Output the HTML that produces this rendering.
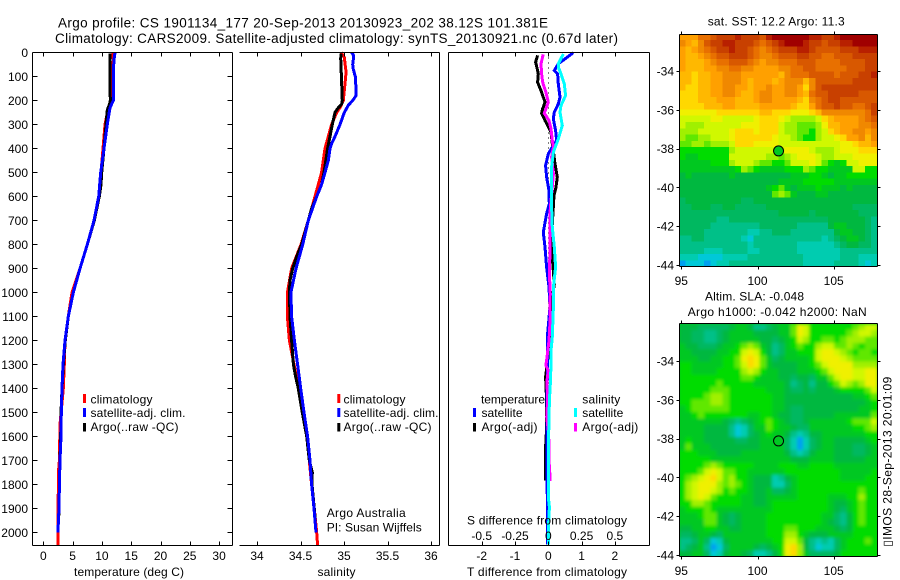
<!DOCTYPE html>
<html>
<head>
<meta charset="utf-8">
<title>Argo profile</title>
<style>
html,body{margin:0;padding:0;background:#fff;}
svg{display:block;}
text{font-family:"Liberation Sans",sans-serif;font-size:12px;fill:#000;}
</style>
</head>
<body>
<svg id="fig" xmlns="http://www.w3.org/2000/svg" width="900" height="580" viewBox="0 0 900 580">
<defs>
<clipPath id="sstClip"><rect x="679.5" y="34.5" width="198" height="232"/></clipPath>
<clipPath id="slaClip"><rect x="679.5" y="323.5" width="198" height="233"/></clipPath>
<filter id="slaBlur" x="-5%" y="-5%" width="110%" height="110%"><feGaussianBlur stdDeviation="1.7"/></filter>
</defs>
<rect x="0" y="0" width="900" height="580" fill="#fff"/>

<text x="58" y="27.5" font-size="13.5" style="font-size:13.5px" textLength="490">Argo profile: CS 1901134_177 20-Sep-2013 20130923_202 38.12S 101.381E</text>
<text x="55" y="42.8" style="font-size:13.5px" textLength="563">Climatology: CARS2009. Satellite-adjusted climatology: synTS_20130921.nc (0.67d later)</text>

<g id="panelT"></g>
<g id="panelS"></g>
<g id="panelD"></g>
<g id="mapSST"></g>
<g id="mapSLA"></g>

<text x="74" y="576" textLength="110">temperature (deg C)</text>
<text x="317.5" y="576" textLength="38">salinity</text>
<text x="467" y="576" textLength="160">T difference from climatology</text>
<text x="467" y="524.5" textLength="160">S difference from climatology</text>

<g>
<rect x="83" y="394" width="3" height="9" fill="#ff0000"/>
<rect x="83" y="408" width="3" height="9" fill="#0000ff"/>
<rect x="83" y="423" width="3" height="8.500" fill="#000"/>
<text x="90.500" y="403.300" textLength="62">climatology</text>
<text x="90.500" y="416.800" textLength="95">satellite-adj. clim.</text>
<text x="90.500" y="430.800" textLength="88">Argo(..raw -QC)</text>
</g>
<g>
<rect x="337.300" y="394" width="3" height="9" fill="#ff0000"/>
<rect x="337.300" y="408" width="3" height="9" fill="#0000ff"/>
<rect x="337.300" y="423" width="3" height="8.500" fill="#000"/>
<text x="343.500" y="403.300" textLength="62">climatology</text>
<text x="343.500" y="416.800" textLength="95">satellite-adj. clim.</text>
<text x="343.500" y="430.800" textLength="88">Argo(..raw -QC)</text>
</g>
<g>
<text x="326.700" y="517" textLength="79">Argo Australia</text>
<text x="326.700" y="531.700" textLength="95">PI: Susan Wijffels</text>
</g>

<g>
<text x="481" y="403.300" textLength="64">temperature</text>
<text x="582.300" y="403.300" textLength="38">salinity</text>
<rect x="473" y="408" width="3" height="9" fill="#0000ff"/>
<rect x="473" y="423" width="3" height="8.500" fill="#000"/>
<rect x="574" y="408" width="3" height="9" fill="#00ffff"/>
<rect x="574" y="423" width="3" height="8.500" fill="#ff00ff"/>
<text x="481.500" y="416.800" textLength="41">satellite</text>
<text x="481.500" y="430.800" textLength="56">Argo(-adj)</text>
<text x="582.300" y="416.800" textLength="41">satellite</text>
<text x="582.300" y="430.800" textLength="56">Argo(-adj)</text>
</g>

<text x="707.700" y="25.700" textLength="137">sat. SST: 12.2 Argo: 11.3</text>
<text x="705" y="300.700" textLength="99">Altim. SLA: -0.048</text>
<text x="687.700" y="316" textLength="179">Argo h1000: -0.042 h2000: NaN</text>
<text transform="translate(891.700,546.700) rotate(-90)" x="0" y="0" textLength="170">▯IMOS 28-Sep-2013 20:01:09</text>
</svg>

<script>
// ---------- profile data ----------
const tempClimDepth = [0,30,100,200,240,300,350,500,600,700,800,900,1000,1100,1200,1300,1400,1550,1700,1750,2000,2055];
const tempClimValue = [11.84,11.95,11.84,11.7,11.0,10.53,10.36,9.85,9.45,8.65,7.51,6.26,4.9,4.27,3.7,3.59,3.42,2.85,2.74,2.57,2.51,2.51];
const tempArgoDepth = [5,25,100,200,215,240,300,400,500,550,600,700,800,900,1000,1100,1200,1300,1400,1500,1600,1700,1800,1900,1960];
const tempArgoValue = [11.38,11.38,11.38,11.43,11.3,10.93,10.7,10.36,9.96,9.85,9.56,8.71,7.51,6.26,5.12,4.27,3.76,3.42,3.19,3.02,2.97,2.85,2.74,2.68,2.6];
const tempSatDepth = [0,30,80,200,230,300,400,500,600,700,800,900,1000,1100,1200,1300,1400,1500,1600,1700,1800,1900,1950,2000];
const tempSatValue = [12.24,12.06,11.95,11.95,11.38,10.93,10.36,9.79,9.45,8.65,7.51,6.26,5.12,4.27,3.7,3.36,3.19,3.08,3.02,2.85,2.74,2.68,2.57,2.51];

const salClimDepth = [0,20,80,100,200,230,250,300,350,400,500,600,700,800,900,1000,1100,1200,1300,1400,1500,1600,1700,1800,1900,2000,2055];
const salClimValue = [34.966,35.004,35.023,35.019,34.992,34.954,34.916,34.858,34.82,34.782,34.743,34.667,34.59,34.506,34.398,34.349,34.349,34.372,34.425,34.483,34.521,34.571,34.601,34.628,34.659,34.686,34.697];
const salArgoDepth = [5,25,100,200,215,230,250,300,350,400,500,550,600,650,700,800,850,900,950,1000,1100,1200,1300,1350,1400,1500,1600,1700,1750,1800,1900,1950];
const salArgoValue = [34.966,34.962,34.97,34.981,34.973,34.935,34.897,34.866,34.839,34.812,34.77,34.743,34.686,34.628,34.59,34.513,34.456,34.41,34.379,34.372,34.379,34.398,34.418,34.444,34.475,34.521,34.571,34.601,34.636,34.632,34.659,34.67];
const salSatDepth = [0,10,30,50,70,100,150,180,200,220,250,300,350,380,400,450,500,550,600,700,800,900,1000,1100,1200,1300,1400,1500,1600,1700,1800,1900,2000];
const salSatValue = [35.088,35.107,35.107,35.1,35.107,35.13,35.138,35.138,35.1,35.05,35.004,34.954,34.897,34.858,34.839,34.82,34.782,34.743,34.686,34.59,34.525,34.448,34.39,34.398,34.43,34.467,34.502,34.54,34.582,34.609,34.628,34.655,34.678];

const diffTSatDepth = [1,47,75,89,131,186,214,249,276,325,367,394,422,471,519,575,631,672,749,811,894,978,1061,1172,1311,1408,1533,1894,2050];
const diffTSatValue = [0.75,0.30,0.18,0.28,0.30,0.35,0.30,0.18,0.15,0.22,0.25,0.12,0,-0.08,-0.05,0.02,0.03,-0.05,-0.15,-0.10,-0.05,0.02,0.05,-0.02,-0.02,-0.04,-0.04,-0.03,-0.03];
const diffTArgoDepth = [12,40,75,89,124,165,207,235,253,283,304,332,381,408,464,519,561,596,644,714,783,853,908,964,1061,1102,1200,1283,1352,1450,1589,1644,1783];
const diffTArgoValue = [-0.32,-0.38,-0.32,-0.30,-0.32,-0.20,-0.10,-0.17,-0.20,-0.10,-0.02,0.08,0.12,0.15,0.20,0.27,0.23,0.17,0.15,0.12,0.10,0.12,0.15,0.18,0.08,0.06,0.08,-0.02,-0.08,-0.05,-0.06,-0.08,-0.08];
const diffSArgoDepth = [8,47,89,124,165,207,235,253,283,318,367,394,436,506,561,617,672,783,839,922,1006,1061,1102,1200,1269,1304,1325,1367,1450,1519,1575,1630,1700,1761,1785];
const diffSArgoValue = [-0.038,-0.055,-0.05,-0.042,-0.018,0,-0.018,-0.03,0.005,0.02,0.03,0.038,0.025,0.038,0.03,0.02,0.012,0.012,0.012,0.008,0.015,0.012,0.015,0.005,-0.01,-0.018,0,-0.01,-0.005,-0.012,0,0.005,0.005,0.012,0.012];
const diffSSatDepth = [6,47,61,89,131,179,221,249,304,360,415,478,575,644,728,811,894,978,1061,1186,1242,1352,1450,1658,1853,1894,1992,2050];
const diffSSatValue = [0.113,0.075,0.075,0.095,0.12,0.13,0.095,0.088,0.105,0.075,0.038,0.025,0.025,0.025,0.03,0.045,0.055,0.038,0.038,0.03,0.02,0.018,0.008,0,0,0.008,0,0];

// ---------- tick labels ----------
const depthTicks = [0,100,200,300,400,500,600,700,800,900,1000,1100,1200,1300,1400,1500,1600,1700,1800,1900,2000];
const tempTicks = [0,5,10,15,20,25,30];
const salTicks = [34,34.5,35,35.5,36];
const diffTTicks = [-2,-1,0,1,2];
const diffSTicks = [-0.5,-0.25,0,0.25,0.5];
const lonTicks = [95,100,105];
const latTicks = [34,36,38,40,42,44];

// ---------- map data: colour level per cell, 32 columns x 37 rows ----------
const sstRows = [
[14,14,14,16,16,17,18,18,18,19,18,18,18,17,19,20,20,20,20,20,20,19,19,18,18,19,20,20,20,20,20,20],
[15,14,13,15,17,18,18,19,19,18,18,18,17,16,17,18,19,20,20,20,19,18,18,17,18,18,19,19,20,20,20,20],
[14,13,14,15,16,17,18,18,19,18,18,17,16,15,16,17,18,18,18,19,19,18,17,17,17,17,18,18,18,19,19,19],
[14,13,13,14,15,16,17,17,18,18,18,17,16,15,15,16,17,17,17,18,18,17,17,16,16,17,17,17,18,18,18,18],
[14,13,13,13,14,15,16,16,17,17,17,16,15,14,15,15,16,16,16,17,17,17,16,16,16,16,17,17,17,17,18,18],
[14,13,13,13,14,14,15,15,16,16,15,15,14,14,14,14,15,15,16,16,17,17,16,16,16,16,16,17,17,17,18,18],
[13,13,12,13,13,14,14,15,15,15,14,14,14,14,14,14,13,15,16,16,16,17,17,17,17,16,17,17,17,18,18,19],
[13,13,12,13,13,14,14,15,15,15,14,13,14,14,14,13,14,15,15,15,13,15,17,17,17,17,17,17,18,18,18,18],
[13,12,12,13,13,14,14,15,15,14,14,13,14,14,15,14,14,15,15,14,12,15,17,18,18,18,18,18,18,18,18,18],
[12,12,12,13,13,14,14,15,15,14,13,13,14,15,15,14,14,15,15,14,13,16,17,17,18,18,18,18,18,17,17,17],
[12,12,12,13,13,13,14,14,14,13,13,13,14,15,15,14,14,14,14,13,12,15,16,17,18,18,17,17,17,17,17,17],
[12,12,12,12,13,13,13,14,14,13,13,13,13,14,14,14,14,14,13,12,12,14,16,17,17,18,17,17,16,16,17,18],
[11,11,11,11,11,11,12,12,12,12,12,12,12,13,13,12,12,12,11,11,11,12,13,15,15,15,15,15,15,15,16,18],
[10,10,10,10,10,11,11,10,10,10,10,10,11,12,12,12,11,10,9,9,9,9,10,12,13,14,14,14,14,15,16,17],
[10,9,9,9,10,10,10,10,10,10,11,11,11,12,12,12,10,9,9,8,8,8,9,11,13,13,14,14,14,15,15,16],
[9,9,9,10,10,10,10,10,11,12,12,12,11,12,12,12,10,9,9,8,8,7,9,10,12,13,14,14,15,15,14,15],
[9,8,8,9,9,10,10,10,11,12,12,12,12,12,12,11,10,10,9,8,7,7,9,10,10,11,12,14,14,15,13,15],
[8,8,9,9,8,9,9,9,10,12,12,12,11,11,11,11,10,10,10,10,10,10,10,10,10,10,11,11,12,13,13,14],
[7,7,7,7,7,7,7,7,9,10,10,10,10,10,10,10,10,11,11,11,11,10,9,9,9,10,11,11,11,12,12,12],
[7,6,6,7,7,7,7,7,10,10,10,10,10,10,9,9,8,9,10,11,11,11,10,9,9,10,10,10,11,11,11,11],
[6,6,6,6,6,7,7,7,9,10,10,10,9,8,8,7,7,8,10,10,10,11,10,8,7,6,7,10,10,11,11,11],
[6,6,6,6,6,6,6,6,6,7,9,8,7,6,6,6,6,7,7,7,9,8,7,7,6,6,6,6,10,10,7,7],
[5,6,5,5,5,5,5,5,6,5,5,5,5,5,5,5,5,5,6,6,6,7,7,6,5,6,6,7,7,7,7,7],
[5,5,5,5,5,5,5,5,5,5,5,5,5,5,5,5,6,6,6,6,7,7,7,7,7,6,6,6,6,6,6,6],
[5,5,5,5,5,5,5,5,5,5,5,5,5,5,6,7,8,6,5,6,6,6,7,6,6,6,5,6,5,5,5,5],
[5,5,5,5,5,5,5,5,5,5,5,5,5,5,5,8,9,8,6,5,5,5,6,6,5,5,5,5,5,5,5,5],
[4,5,5,5,5,5,5,5,5,5,4,4,5,5,5,5,5,5,5,5,5,5,5,5,5,5,5,5,5,5,5,5],
[4,4,5,5,5,4,4,5,5,4,4,4,4,4,5,5,5,5,5,5,5,5,5,5,5,5,5,5,4,4,4,4],
[4,4,4,4,4,4,4,4,4,4,4,4,4,4,4,4,5,5,5,5,5,4,5,5,5,5,5,5,5,4,4,4],
[4,4,4,4,4,4,3,3,4,4,4,4,4,4,4,4,4,4,4,4,4,4,4,4,5,5,5,5,5,5,4,3],
[4,4,4,4,4,3,3,3,3,3,3,3,3,4,4,4,4,4,4,3,3,3,3,3,5,6,6,5,5,5,4,3],
[4,4,4,4,3,3,3,3,3,3,3,2,2,3,3,4,4,4,3,3,3,3,3,3,3,5,6,6,5,5,4,3],
[3,3,4,4,3,3,3,3,3,3,2,1,3,3,3,3,3,3,3,3,3,3,3,2,3,4,5,6,6,5,4,3],
[3,3,3,3,3,3,3,3,3,3,3,2,3,3,3,3,3,3,3,2,2,2,2,2,2,3,4,5,5,4,4,3],
[3,3,3,3,2,2,2,3,3,3,3,2,2,3,3,3,3,3,3,2,2,2,2,2,2,2,3,3,3,3,3,3],
[2,2,2,1,1,1,1,2,2,2,2,3,3,3,3,3,3,3,3,3,2,2,2,2,2,2,3,3,3,2,2,2],
[0,1,1,1,0,1,2,2,3,3,3,3,3,3,3,3,3,3,3,3,2,2,2,2,2,3,3,3,3,2,1,2]
];
const slaRows = [
[5,5,5,4,4,4,4,4,5,6,6,5,3,3,4,5,6,6,8,11,10,7,7,7,7,7,7,7,8,9,10,10],
[5,5,4,4,3,3,4,5,6,6,6,6,5,5,5,5,6,6,8,11,10,7,7,7,7,7,7,8,9,10,10,9],
[5,5,4,4,3,3,4,5,6,6,6,6,6,5,5,4,5,6,7,10,9,7,7,8,8,7,8,9,9,9,8,8],
[6,5,5,4,4,4,5,6,6,7,8,9,8,6,5,3,4,6,7,8,7,7,9,10,10,8,8,9,8,7,8,8],
[6,6,5,5,5,5,6,6,7,7,10,11,10,7,5,3,4,6,6,7,7,7,10,11,11,10,9,8,7,8,8,7],
[6,6,6,5,5,6,6,7,7,8,11,12,11,8,6,4,5,6,6,6,6,7,10,11,11,11,10,9,8,8,8,8],
[7,7,6,6,6,6,6,7,7,8,10,12,11,8,6,5,5,5,5,6,6,7,8,10,11,11,11,11,9,9,9,9],
[7,7,6,6,6,6,7,7,7,7,9,10,9,7,6,6,5,5,5,6,6,6,7,8,10,11,11,11,10,10,11,11],
[7,7,7,7,7,7,7,7,7,7,8,8,7,6,6,6,5,5,4,5,5,4,6,6,8,10,11,11,10,10,11,11],
[7,7,7,7,7,7,8,7,7,7,7,7,6,6,6,6,6,5,3,4,5,3,5,5,7,8,10,9,8,9,11,11],
[7,7,7,7,7,8,8,8,7,7,7,7,7,7,6,6,6,5,4,4,5,4,5,5,5,6,7,7,7,7,8,10],
[7,7,7,7,8,9,9,8,7,7,7,7,7,7,7,6,6,5,5,5,5,5,5,5,5,5,5,5,6,6,7,8],
[7,7,8,8,8,9,9,8,7,7,7,7,7,7,7,6,6,5,5,5,5,5,5,5,5,5,5,5,5,5,6,7],
[6,7,8,8,8,8,8,8,7,7,7,7,7,7,7,6,6,5,4,4,5,5,5,5,5,5,5,5,5,6,6,7],
[6,6,7,8,7,7,7,7,7,7,7,6,6,7,7,6,5,5,4,4,5,5,5,5,5,6,6,6,6,6,6,8],
[6,6,6,6,6,6,6,5,4,3,4,5,6,7,8,7,6,5,4,4,5,6,6,6,6,6,6,7,8,8,8,10],
[6,6,6,6,5,5,5,5,3,1,2,4,6,6,8,7,6,6,5,4,4,6,6,6,6,6,6,6,7,7,8,9],
[6,6,6,6,5,5,5,5,3,1,2,4,5,6,7,6,6,5,3,2,3,5,5,6,6,6,6,6,6,6,7,7],
[6,7,6,6,5,5,5,5,5,4,4,5,5,6,6,6,6,4,2,0,2,4,5,6,6,5,5,5,5,5,6,7],
[6,8,6,6,6,5,5,5,5,5,5,5,5,6,6,6,6,4,2,0,2,4,5,6,6,5,5,5,4,4,5,6],
[7,7,7,6,6,6,5,5,5,5,6,6,6,6,6,6,6,5,3,2,3,5,6,6,6,5,5,5,4,4,5,6],
[7,7,7,7,7,6,6,6,6,6,6,6,6,6,6,6,6,6,5,5,5,6,6,6,6,5,5,5,5,5,6,6],
[7,7,7,7,8,9,8,7,7,7,7,7,6,6,6,6,7,7,7,6,6,7,7,7,7,6,6,6,6,6,6,6],
[7,7,7,8,10,11,10,8,8,7,7,6,6,6,6,6,6,7,7,7,7,7,7,7,7,7,6,6,6,6,6,7],
[7,8,9,10,11,12,10,8,9,7,7,6,5,5,5,2,3,5,6,7,7,7,7,7,7,7,6,6,6,6,7,7],
[7,9,10,11,11,11,9,8,9,8,7,6,5,5,5,2,2,4,6,7,7,7,7,7,7,7,7,7,7,7,7,7],
[7,9,10,11,11,10,9,7,8,7,7,6,5,5,6,4,4,5,6,7,7,7,7,7,7,7,7,7,7,8,7,7],
[7,9,10,11,10,8,7,7,7,7,6,6,5,5,6,6,6,6,6,7,7,7,7,7,6,6,6,7,7,9,7,7],
[7,7,9,9,8,7,7,7,7,7,6,6,5,5,6,7,7,7,7,7,7,7,7,7,6,5,5,6,7,8,7,7],
[6,7,7,7,8,7,6,6,6,6,6,6,6,6,6,7,7,7,7,7,7,7,7,7,6,5,4,6,7,8,7,7],
[6,6,6,7,8,8,6,5,4,5,6,6,6,6,7,7,7,7,7,7,7,7,7,6,6,4,3,5,7,8,7,7],
[6,6,6,6,8,8,6,5,4,5,6,6,6,6,7,7,7,7,7,7,7,7,7,6,5,4,3,5,7,8,7,7],
[5,5,6,6,7,7,6,6,5,5,6,6,6,6,7,7,7,8,8,7,7,7,6,6,6,5,4,5,7,7,7,7],
[4,4,5,6,6,5,4,6,6,6,6,6,6,6,7,7,7,9,9,7,6,5,5,5,6,6,6,6,7,7,7,7],
[3,3,4,6,4,1,2,5,6,6,6,6,6,6,6,7,7,10,10,8,5,3,2,3,2,4,6,7,7,7,8,7],
[3,4,5,6,3,0,1,4,6,6,6,6,5,4,5,6,7,11,12,9,5,3,1,2,2,4,6,7,7,7,7,7],
[5,5,6,6,4,1,2,5,6,6,5,4,2,2,3,5,7,11,12,9,6,4,4,4,4,5,7,7,7,7,7,7]
];
const argoLon = [101.381];
const argoLat = [38.12];

// ---------- colour scale (level -> colour) ----------
const levelColors = ['#00a0f0','#00c8d8','#00ccb0','#00c088','#00b860','#00b840','#00c820','#00dc00','#60e800','#a0f000','#d0f800','#f0f000','#ffd800','#ffb800','#ffa000','#f08800','#e87000','#d85800','#c84000','#b82000','#a00000'];

// ---------- axis functions ----------
const PLOT_TOP = 52.5, PLOT_BOTTOM = 545.5;
function yDepth(d){ return PLOT_TOP + 0.24 * d; }
function xTemp(t){ return 43.3 + 5.86 * t; }
function xSal(s){ return 257 + 87 * (s - 34); }
function xDiffT(t){ return 548.3 + 33.3 * t; }
function xDiffS(s){ return 548.3 + 133.2 * s; }
function xLon(lon){ return 681.3 + (lon - 95) * 15.24; }
function ySstLat(lat){ return 71 + (lat - 34) * 19.4; }
function ySlaLat(lat){ return 361 + (lat - 34) * 19.4; }

const NS = 'http://www.w3.org/2000/svg';
function svgEl(tag, parent){
  const el = document.createElementNS(NS, tag);
  parent.appendChild(el);
  return el;
}
function setLine(el, x1, y1, x2, y2){
  el.setAttribute('x1', x1);
  el.setAttribute('y1', y1);
  el.setAttribute('x2', x2);
  el.setAttribute('y2', y2);
  el.setAttribute('stroke', '#000');
  el.setAttribute('stroke-width', 1);
  el.setAttribute('shape-rendering', 'crispEdges');
}
function setText(el, x, y, anchor, str){
  el.setAttribute('x', x);
  el.setAttribute('y', y);
  el.setAttribute('text-anchor', anchor);
  el.textContent = str;
}
function setProfile(el, depths, values, xFn, color){
  const pts = depths.map(function(d, i){ return xFn(values[i]).toFixed(1) + ',' + yDepth(d).toFixed(1); });
  el.setAttribute('points', pts.join(' '));
  el.setAttribute('fill', 'none');
  el.setAttribute('stroke', color);
  el.setAttribute('stroke-width', 3);
  el.setAttribute('shape-rendering', 'crispEdges');
}
function frameSides(parent, x0, x1, y0, y1, hasLeft){
  const top = svgEl('line', parent);
  
  
  setLine(top, x0, y0, x1, y0);
  const bottom = svgEl('line', parent);
  
  
  setLine(bottom, x0, y1, x1, y1);
  const right = svgEl('line', parent);
  
  
  setLine(right, x1, y0, x1, y1);
  if (hasLeft) {
    const left = svgEl('line', parent);
    
    
    setLine(left, x0, y0, x0, y1);
  }
}

// ---------- temperature panel ----------
const panelT = document.getElementById('panelT');
const tClim = svgEl('polyline', panelT);


setProfile(tClim, tempClimDepth, tempClimValue, xTemp, '#ff0000');
const tArgo = svgEl('polyline', panelT);


setProfile(tArgo, tempArgoDepth, tempArgoValue, xTemp, '#000000');
const tSat = svgEl('polyline', panelT);


setProfile(tSat, tempSatDepth, tempSatValue, xTemp, '#0000ff');
frameSides(panelT, 32.5, 232.5, PLOT_TOP, PLOT_BOTTOM, true);
depthTicks.forEach(function(d){
  const y = Math.round(yDepth(d) - 0.5) + 0.5;
  const tl = svgEl('line', panelT);
  
  
  setLine(tl, 32.5, y, 37.5, y);
  const tr = svgEl('line', panelT);
  
  
  setLine(tr, 227.5, y, 232.5, y);
  const lab = svgEl('text', panelT);
  
  
  setText(lab, 28, yDepth(d) + 4.5, 'end', String(d));
});
tempTicks.forEach(function(t){
  const x = Math.round(xTemp(t)) + 0.5;
  const a = svgEl('line', panelT);
  
  
  setLine(a, x, PLOT_TOP, x, PLOT_TOP + 4);
  const b = svgEl('line', panelT);
  
  
  setLine(b, x, PLOT_BOTTOM - 4, x, PLOT_BOTTOM);
  const lab = svgEl('text', panelT);
  
  
  setText(lab, xTemp(t), 560, 'middle', String(t));
});

// ---------- salinity panel ----------
const panelS = document.getElementById('panelS');
const sClim = svgEl('polyline', panelS);


setProfile(sClim, salClimDepth, salClimValue, xSal, '#ff0000');
const sArgo = svgEl('polyline', panelS);


setProfile(sArgo, salArgoDepth, salArgoValue, xSal, '#000000');
const sSat = svgEl('polyline', panelS);


setProfile(sSat, salSatDepth, salSatValue, xSal, '#0000ff');
frameSides(panelS, 239.5, 439.5, PLOT_TOP, PLOT_BOTTOM, false);
salTicks.forEach(function(s){
  const x = Math.round(xSal(s)) + 0.5;
  const a = svgEl('line', panelS);
  
  
  setLine(a, x, PLOT_TOP, x, PLOT_TOP + 4);
  const b = svgEl('line', panelS);
  
  
  setLine(b, x, PLOT_BOTTOM - 4, x, PLOT_BOTTOM);
  const lab = svgEl('text', panelS);
  
  
  setText(lab, xSal(s), 560, 'middle', String(s));
});

// ---------- difference panel ----------
const panelD = document.getElementById('panelD');
const zeroLine = svgEl('line', panelD);


setLine(zeroLine, xDiffT(0), PLOT_TOP, xDiffT(0), PLOT_BOTTOM);
zeroLine.setAttribute('stroke-dasharray', '1 4');
const dTArgo = svgEl('polyline', panelD);


setProfile(dTArgo, diffTArgoDepth, diffTArgoValue, xDiffT, '#000000');
const dTSat = svgEl('polyline', panelD);


setProfile(dTSat, diffTSatDepth, diffTSatValue, xDiffT, '#0000ff');
const dSArgo = svgEl('polyline', panelD);


setProfile(dSArgo, diffSArgoDepth, diffSArgoValue, xDiffS, '#ff00ff');
const dSSat = svgEl('polyline', panelD);


setProfile(dSSat, diffSSatDepth, diffSSatValue, xDiffS, '#00ffff');
frameSides(panelD, 448.5, 649.5, PLOT_TOP, PLOT_BOTTOM, true);
diffTTicks.forEach(function(t){
  const x = Math.round(xDiffT(t)) + 0.5;
  const b = svgEl('line', panelD);
  
  
  setLine(b, x, PLOT_BOTTOM - 4, x, PLOT_BOTTOM);
  const lab = svgEl('text', panelD);
  
  
  setText(lab, xDiffT(t), 560, 'middle', String(t));
});
diffSTicks.forEach(function(s){
  const x = Math.round(xDiffS(s)) + 0.5;
  const a = svgEl('line', panelD);
  
  
  setLine(a, x, PLOT_TOP, x, PLOT_TOP + 4);
  const lab = svgEl('text', panelD);
  
  
  setText(lab, xDiffS(s), 540, 'middle', String(s));
});

// ---------- maps ----------
const LON_WEST = 94.87, LON_EAST = 107.86, LAT_NORTH = 32.09, LAT_SOUTH = 44.09;
function drawCells(parent, rows, yLat, cellName){
  const nr = rows.length;
  rows.forEach(function(row, i){
    const nc = row.length;
    row.forEach(function(v, j){
      const x0 = xLon(LON_WEST + (LON_EAST - LON_WEST) * j / nc);
      const x1 = xLon(LON_WEST + (LON_EAST - LON_WEST) * (j + 1) / nc);
      const y0 = yLat(LAT_NORTH + (LAT_SOUTH - LAT_NORTH) * i / nr);
      const y1 = yLat(LAT_NORTH + (LAT_SOUTH - LAT_NORTH) * (i + 1) / nr);
      const cell = svgEl('rect', parent);
      
      
      cell.setAttribute('x', x0.toFixed(2));
      cell.setAttribute('y', y0.toFixed(2));
      cell.setAttribute('width', (x1 - x0 + 0.6).toFixed(2));
      cell.setAttribute('height', (y1 - y0 + 0.6).toFixed(2));
      cell.setAttribute('fill', levelColors[Math.max(0, Math.min(levelColors.length - 1, Math.round(v)))]);
      cell.setAttribute('shape-rendering', 'crispEdges');
    });
  });
}
function drawMapAxes(parent, y0, y1, yLat, labelY){
  frameSides(parent, 679.5, 877.5, y0, y1, true);
  lonTicks.forEach(function(lon){
    const x = Math.round(xLon(lon)) + 0.5;
    const a = svgEl('line', parent);
    
    
    setLine(a, x, y0 - 3, x, y0);
    const b = svgEl('line', parent);
    
    
    setLine(b, x, y1, x, y1 + 3);
    const lab = svgEl('text', parent);
    
    
    setText(lab, xLon(lon), labelY, 'middle', String(lon));
  });
  latTicks.forEach(function(lat){
    const y = Math.round(yLat(lat)) + 0.5;
    const a = svgEl('line', parent);
    
    
    setLine(a, 676.5, y, 679.5, y);
    const b = svgEl('line', parent);
    
    
    setLine(b, 877.5, y, 880.5, y);
    const lab = svgEl('text', parent);
    
    
    setText(lab, 674, yLat(lat) + 4.5, 'end', '-' + lat);
  });
}

const mapSST = document.getElementById('mapSST');
const sstCells = svgEl('g', mapSST);


sstCells.setAttribute('clip-path', 'url(#sstClip)');
drawCells(sstCells, sstRows, ySstLat, 'sst-cell');
drawMapAxes(mapSST, 34.5, 266.5, ySstLat, 285);
const sstMarker = svgEl('circle', mapSST);


sstMarker.setAttribute('cx', xLon(argoLon[0]));
sstMarker.setAttribute('cy', ySstLat(argoLat[0]));
sstMarker.setAttribute('r', 5);
sstMarker.setAttribute('fill', levelColors[6]);
sstMarker.setAttribute('stroke', '#000');
sstMarker.setAttribute('stroke-width', 1);

const mapSLA = document.getElementById('mapSLA');
const slaClipG = svgEl('g', mapSLA);


slaClipG.setAttribute('clip-path', 'url(#slaClip)');
const slaBack = svgEl('rect', slaClipG);


slaBack.setAttribute('x', 679);
slaBack.setAttribute('y', 323);
slaBack.setAttribute('width', 199);
slaBack.setAttribute('height', 234);
slaBack.setAttribute('fill', levelColors[6]);
const slaCells = svgEl('g', slaClipG);


slaCells.setAttribute('filter', 'url(#slaBlur)');
drawCells(slaCells, slaRows, ySlaLat, 'sla-cell');
drawMapAxes(mapSLA, 323.5, 556.5, ySlaLat, 575);
const slaMarker = svgEl('circle', mapSLA);


slaMarker.setAttribute('cx', xLon(argoLon[0]));
slaMarker.setAttribute('cy', ySlaLat(argoLat[0]));
slaMarker.setAttribute('r', 5);
slaMarker.setAttribute('fill', 'none');
slaMarker.setAttribute('stroke', '#000');
slaMarker.setAttribute('stroke-width', 1);
</script>
</body>
</html>
